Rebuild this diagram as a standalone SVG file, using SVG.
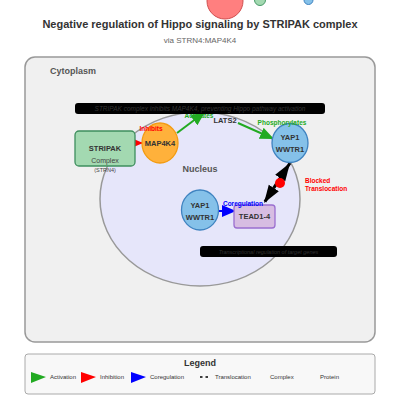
<svg xmlns="http://www.w3.org/2000/svg" width="400" height="400" viewBox="0 0 400 400">
<style>
text{font-family:"Liberation Sans",Arial,sans-serif}
.title{font-size:11px;font-weight:bold;fill:#333;text-anchor:middle}
.sub{font-size:8px;fill:#666;text-anchor:middle}
.comp{font-size:9px;font-weight:bold;fill:#555}
.bar{fill:#000}
.bartxt{font-style:italic;fill:#333;text-anchor:middle}
.node{font-size:7.5px;font-weight:bold;fill:#333;text-anchor:middle}
.lbl{font-size:6.5px;font-weight:bold}
.protein{fill:#85c1e9;stroke:#3f83c0;stroke-width:1.3}
.leg{font-size:6px;fill:#333}
</style>
<defs>
<marker id="ag" markerUnits="userSpaceOnUse" markerWidth="15" markerHeight="13" refX="14" refY="6" orient="auto"><path d="M0,0 L14,6 L0,12 z" fill="#22aa22"/></marker>
<marker id="ar" markerUnits="userSpaceOnUse" markerWidth="15" markerHeight="13" refX="14" refY="6" orient="auto"><path d="M0,0 L14,6 L0,12 z" fill="#ff0000"/></marker>
<marker id="ab" markerUnits="userSpaceOnUse" markerWidth="15" markerHeight="13" refX="14" refY="6" orient="auto"><path d="M0,0 L14,6 L0,12 z" fill="#0000ff"/></marker>
<marker id="ak" markerUnits="userSpaceOnUse" markerWidth="19" markerHeight="13" refX="18" refY="6" orient="auto-start-reverse"><path d="M0,0 L18,6 L0,12 z" fill="#000"/></marker>
</defs>
<rect width="400" height="400" fill="#fff"/>
<g id="top-shapes">
<circle cx="225" cy="1" r="18" fill="#ff7f7f" stroke="#d05050" stroke-width="1"/>
<circle cx="260" cy="0" r="5.5" fill="#a3d9b1" stroke="#4a9a6a" stroke-width="1"/>
<circle cx="308.5" cy="0" r="4.5" fill="#85c1e9" stroke="#3f83c0" stroke-width="1"/>
</g>
<text class="title" x="200" y="28">Negative regulation of Hippo signaling by STRIPAK complex</text>
<text class="sub" x="200" y="43">via STRN4:MAP4K4</text>
<g id="cytoplasm">
<rect x="25" y="57" width="350" height="285" rx="10" fill="#f0f0f0" stroke="#999" stroke-width="1.5"/>
<text class="comp" x="50" y="74">Cytoplasm</text>
</g>
<g id="nucleus">
<ellipse cx="200" cy="199" rx="100" ry="87" fill="#e6e6fa" stroke="#999" stroke-width="1.5"/>
<text class="comp" x="200" y="172" text-anchor="middle">Nucleus</text>
</g>
<g id="connectors">
<line x1="135" y1="143" x2="143" y2="143" stroke="#ff0000" stroke-width="2" marker-end="url(#ar)"/>
<line x1="177" y1="133" x2="205" y2="112" stroke="#22aa22" stroke-width="2" marker-end="url(#ag)"/>
<line x1="238" y1="123" x2="274" y2="139" stroke="#22aa22" stroke-width="2" marker-end="url(#ag)"/>
<line x1="219" y1="211" x2="236" y2="211" stroke="#0000ff" stroke-width="2" marker-end="url(#ab)"/>
<line x1="290" y1="163" x2="264" y2="203" stroke="#000" stroke-width="3" stroke-dasharray="6,2" marker-start="url(#ak)" marker-end="url(#ak)"/>
<circle cx="280" cy="183" r="5" fill="#ff0000"/>
</g>
<g id="stripak">
<rect x="75" y="131" width="60" height="35" rx="4" fill="#a3d9b1" stroke="#3e8e5e" stroke-width="1.3"/>
<text class="node" x="105" y="151" font-size="8">STRIPAK</text>
<text x="105" y="163" font-size="7" fill="#444" text-anchor="middle">Complex</text>
<text x="105" y="172" font-size="5.5" fill="#444" text-anchor="middle">(STRN4)</text>
</g>
<g id="map4k4">
<ellipse cx="160" cy="143" rx="18" ry="20" fill="#ffb13b" stroke="#f39c12" stroke-width="1.3"/>
<text class="node" x="160" y="146" font-size="7">MAP4K4</text>
</g>
<g id="lats2">
<text class="node" x="225" y="123">LATS2</text>
</g>
<g id="yap1-cyto">
<ellipse class="protein" cx="290" cy="143" rx="18" ry="19.5"/>
<text class="node" x="290" y="140">YAP1</text>
<text class="node" x="290" y="152">WWTR1</text>
</g>
<g id="yap1-nuc">
<ellipse class="protein" cx="200" cy="210" rx="18.5" ry="20"/>
<text class="node" x="200" y="208">YAP1</text>
<text class="node" x="200" y="220">WWTR1</text>
</g>
<g id="tead">
<rect x="234" y="205" width="41" height="23" rx="3" fill="#d7bde2" stroke="#9b6fd0" stroke-width="1.3"/>
<text class="node" x="254.5" y="219">TEAD1-4</text>
</g>
<g id="connector-labels">
<text class="lbl" x="151" y="131" fill="#ff0000" text-anchor="middle">Inhibits</text>
<text class="lbl" x="199" y="118" fill="#22aa22" text-anchor="middle">Activates</text>
<text class="lbl" x="282" y="125" fill="#22aa22" text-anchor="middle">Phosphorylates</text>
<text class="lbl" x="243" y="206" fill="#0000ff" text-anchor="middle">Coregulation</text>
<text class="lbl" x="305" y="183" fill="#ff0000">Blocked</text>
<text class="lbl" x="305" y="191" fill="#ff0000">Translocation</text>
</g>
<g id="note1">
<rect class="bar" x="75" y="103" width="250" height="11" rx="3"/>
<text class="bartxt" x="200" y="111" font-size="6.5">STRIPAK complex inhibits MAP4K4, preventing Hippo pathway activation</text>
</g>
<g id="note2">
<rect class="bar" x="200" y="246" width="137" height="11" rx="3"/>
<text class="bartxt" x="268.5" y="253.5" font-size="5.5">Transcriptional regulation of target genes</text>
</g>
<g id="legend">
<rect x="25" y="354" width="350" height="40" rx="3" fill="#f8f8f8" stroke="#aaa" stroke-width="1"/>
<text x="200" y="366" font-size="9" font-weight="bold" fill="#333" text-anchor="middle">Legend</text>
<path d="M31,372 L46,377 L31,383 z" fill="#22aa22"/>
<text class="leg" x="50" y="379">Activation</text>
<path d="M81,372 L96,377 L81,383 z" fill="#ff0000"/>
<text class="leg" x="100" y="379">Inhibition</text>
<path d="M131,372 L146,377 L131,383 z" fill="#0000ff"/>
<text class="leg" x="150" y="379">Coregulation</text>
<line x1="200" y1="377" x2="208" y2="377" stroke="#000" stroke-width="1.5" stroke-dasharray="2.5,3"/>
<text class="leg" x="215" y="379">Translocation</text>
<text class="leg" x="270" y="379">Complex</text>
<text class="leg" x="320" y="379">Protein</text>
</g>
</svg>
